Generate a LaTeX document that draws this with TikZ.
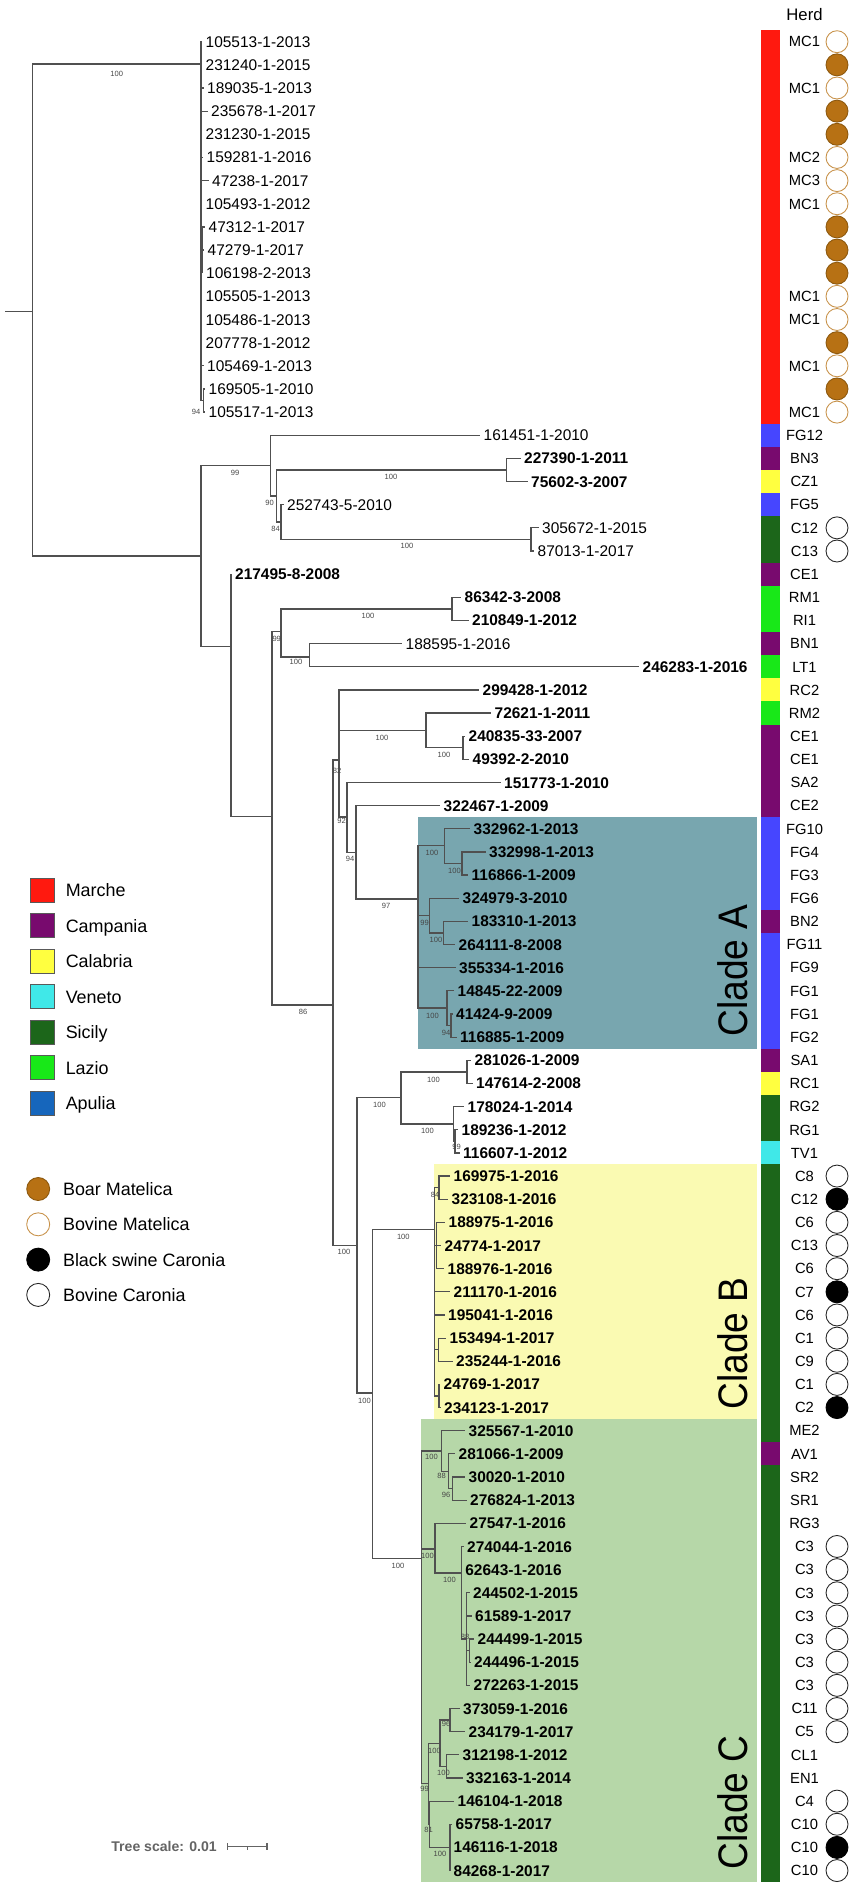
\documentclass[tikz,border=0pt]{standalone}
\usepackage{fontspec}
\setmainfont{Liberation Sans}
\newfontfamily\cladefont{Liberation Sans}[FakeStretch=0.9]
\definecolor{brc}{RGB}{80,80,80}
\definecolor{bsc}{RGB}{70,70,70}
\definecolor{cMar}{RGB}{255,25,15}
\definecolor{cCam}{RGB}{120,10,110}
\definecolor{cCal}{RGB}{255,255,64}
\definecolor{cVen}{RGB}{64,232,232}
\definecolor{cSic}{RGB}{28,102,26}
\definecolor{cLaz}{RGB}{24,232,24}
\definecolor{cApu}{RGB}{22,102,188}
\definecolor{cFG}{RGB}{70,70,255}
\definecolor{cA}{RGB}{120,166,175}
\definecolor{cB}{RGB}{250,250,178}
\definecolor{cC}{RGB}{182,215,168}
\definecolor{boarF}{RGB}{183,113,20}
\definecolor{boarD}{RGB}{140,88,14}
\definecolor{bovMD}{RGB}{200,146,74}
\definecolor{tsc}{RGB}{100,100,100}
\newcommand\lf[5]{\coordinate (#1t) at (#2,{41.7+23.15*#3}); \node[#4] (#1) at (#1t) {#5};}
\newcommand\cells[3]{\fill[#3] (761,{30.1+23.15*#1}) rectangle (780,{30.1+23.15*(#2+1)});}
\begin{document}
\begin{tikzpicture}[x=0.02cm,y=-0.02cm,
 br/.style={draw=brc,line width=0.7pt},
 lfn/.style={anchor=west,inner xsep=1.9pt,inner ysep=0pt,text height=6.3pt,text depth=0pt,font=\fontsize{8.8}{10}\selectfont},
 lfb/.style={lfn,font=\fontsize{8.8}{10}\selectfont\bfseries},
 bsl/.style={inner sep=0pt,text=bsc,font=\fontsize{4.3}{5}\selectfont},
 herd/.style={inner sep=0pt,text height=6pt,text depth=0pt,font=\fontsize{8.4}{10}\selectfont},
 hc/.style={circle,inner sep=0pt,minimum size=0.44cm,line width=0.5pt},
 boar/.style={hc,draw=boarD,fill=boarF},
 bovm/.style={hc,draw=bovMD,fill=white},
 blk/.style={hc,draw=black,fill=black},
 bovc/.style={hc,draw=black!85,fill=white},
 lsq/.style={draw=black!65,line width=0.5pt,minimum size=0.48cm,inner sep=0pt},
 ltx/.style={anchor=base west,inner sep=0pt,font=\fontsize{10.2}{12}\selectfont},
 cladelbl/.style={rotate=90,anchor=base west,inner sep=0pt,font=\cladefont\fontsize{23.5}{26}\selectfont},
 sbar/.style={draw=tsc,line width=0.6pt}]
\useasboundingbox (0,0) rectangle (851,1889);
% clade boxes
\fill[cA] (417.7,816.7) rectangle (757,1049.3);
\fill[cB] (434.3,1164.3) rectangle (757,1419);
\fill[cC] (421,1419) rectangle (757,1882.3);
\node[cladelbl] (cladeA) at (747,1037) {Clade A};
\node[cladelbl] (cladeB) at (747,1410) {Clade B};
\node[cladelbl] (cladeC) at (747,1870) {Clade C};
% internal nodes
\coordinate (R0) at (5.4,311.7);
\coordinate (R) at (32.7,311.7);
\coordinate (MA) at (201,64);
\coordinate (MAa) at (201.8,169);
\coordinate (MAb) at (202.5,250);
\coordinate (MAc) at (203.5,400.5);
\coordinate (N1) at (201,556);
\coordinate (N2) at (270.5,465.5);
\coordinate (N3) at (276.5,496);
\coordinate (CZ) at (506.5,470);
\coordinate (N4) at (281,522);
\coordinate (C12n) at (531,539.4);
\coordinate (N5) at (231,646.7);
\coordinate (N6) at (272,816.7);
\coordinate (N7) at (281,631.7);
\coordinate (RM) at (452,609);
\coordinate (N8) at (309.5,657);
\coordinate (N9) at (333,1005);
\coordinate (N10) at (339,760);
\coordinate (N72) at (426,730.7);
\coordinate (N24) at (463,747.8);
\coordinate (N12) at (347,817);
\coordinate (N13) at (356,852.5);
\coordinate (CA) at (418,899);
\coordinate (A1) at (444.5,845.7);
\coordinate (A1s) at (462,863.5);
\coordinate (A2) at (429.5,915.5);
\coordinate (A2s) at (443.5,933);
\coordinate (A3) at (447,1008);
\coordinate (A3s) at (451,1025.6);
\coordinate (N11) at (357,1245.7);
\coordinate (RG) at (401,1097.7);
\coordinate (RC) at (467,1071.9);
\coordinate (RGn) at (453.5,1124);
\coordinate (RGs) at (455,1141.3);
\coordinate (BC) at (372.5,1393);
\coordinate (CB) at (434.5,1229.3);
\coordinate (B1) at (439,1187.6);
\coordinate (B2) at (436.7,1245.5);
\coordinate (B3) at (438.3,1349.7);
\coordinate (B4) at (439,1396);
\coordinate (CC) at (421.5,1558.3);
\coordinate (C1) at (441.7,1451);
\coordinate (C1a) at (448.3,1471.2);
\coordinate (C1b) at (452.7,1488.6);
\coordinate (C2) at (435,1549);
\coordinate (C2a) at (461.7,1573);
\coordinate (C2b) at (466.7,1639);
\coordinate (C2c) at (469.5,1650.6);
\coordinate (Y) at (428.5,1783.7);
\coordinate (C3a) at (440,1743.2);
\coordinate (s96) at (450,1720);
\coordinate (s100b) at (446.6,1766.4);
\coordinate (Z) at (429.5,1824.25);
\coordinate (s81) at (450,1847.4);
% leaves
\lf{l0}{202}{0}{lfn}{105513-1-2013}
\lf{l1}{202}{1}{lfn}{231240-1-2015}
\lf{l2}{203.5}{2}{lfn}{189035-1-2013}
\lf{l3}{207.5}{3}{lfn}{235678-1-2017}
\lf{l4}{202}{4}{lfn}{231230-1-2015}
\lf{l5}{203}{5}{lfn}{159281-1-2016}
\lf{l6}{208.5}{6}{lfn}{47238-1-2017}
\lf{l7}{202}{7}{lfn}{105493-1-2012}
\lf{l8}{205}{8}{lfn}{47312-1-2017}
\lf{l9}{204}{9}{lfn}{47279-1-2017}
\lf{l10}{202.5}{10}{lfn}{106198-2-2013}
\lf{l11}{202}{11}{lfn}{105505-1-2013}
\lf{l12}{202}{12}{lfn}{105486-1-2013}
\lf{l13}{202}{13}{lfn}{207778-1-2012}
\lf{l14}{203.5}{14}{lfn}{105469-1-2013}
\lf{l15}{205}{15}{lfn}{169505-1-2010}
\lf{l16}{205}{16}{lfn}{105517-1-2013}
\lf{l17}{480}{17}{lfn}{161451-1-2010}
\lf{l18}{520.5}{18}{lfb}{227390-1-2011}
\lf{l19}{527.5}{19}{lfb}{75602-3-2007}
\lf{l20}{283.5}{20}{lfn}{252743-5-2010}
\lf{l21}{538.5}{21}{lfn}{305672-1-2015}
\lf{l22}{534}{22}{lfn}{87013-1-2017}
\lf{l23}{231.5}{23}{lfb}{217495-8-2008}
\lf{l24}{461}{24}{lfb}{86342-3-2008}
\lf{l25}{468.5}{25}{lfb}{210849-1-2012}
\lf{l26}{402}{26}{lfn}{188595-1-2016}
\lf{l27}{639}{27}{lfb}{246283-1-2016}
\lf{l28}{479}{28}{lfb}{299428-1-2012}
\lf{l29}{491}{29}{lfb}{72621-1-2011}
\lf{l30}{465}{30}{lfb}{240835-33-2007}
\lf{l31}{469}{31}{lfb}{49392-2-2010}
\lf{l32}{500.5}{32}{lfb}{151773-1-2010}
\lf{l33}{440}{33}{lfb}{322467-1-2009}
\lf{l34}{470}{34}{lfb}{332962-1-2013}
\lf{l35}{485.5}{35}{lfb}{332998-1-2013}
\lf{l36}{468}{36}{lfb}{116866-1-2009}
\lf{l37}{459}{37}{lfb}{324979-3-2010}
\lf{l38}{468}{38}{lfb}{183310-1-2013}
\lf{l39}{455}{39}{lfb}{264111-8-2008}
\lf{l40}{455.5}{40}{lfb}{355334-1-2016}
\lf{l41}{454}{41}{lfb}{14845-22-2009}
\lf{l42}{452.5}{42}{lfb}{41424-9-2009}
\lf{l43}{456.5}{43}{lfb}{116885-1-2009}
\lf{l44}{471}{44}{lfb}{281026-1-2009}
\lf{l45}{472.5}{45}{lfb}{147614-2-2008}
\lf{l46}{464}{46}{lfb}{178024-1-2014}
\lf{l47}{458}{47}{lfb}{189236-1-2012}
\lf{l48}{459.5}{48}{lfb}{116607-1-2012}
\lf{l49}{450}{49}{lfb}{169975-1-2016}
\lf{l50}{448}{50}{lfb}{323108-1-2016}
\lf{l51}{445}{51}{lfb}{188975-1-2016}
\lf{l52}{441}{52}{lfb}{24774-1-2017}
\lf{l53}{444}{53}{lfb}{188976-1-2016}
\lf{l54}{450}{54}{lfb}{211170-1-2016}
\lf{l55}{444.5}{55}{lfb}{195041-1-2016}
\lf{l56}{446}{56}{lfb}{153494-1-2017}
\lf{l57}{452.5}{57}{lfb}{235244-1-2016}
\lf{l58}{440}{58}{lfb}{24769-1-2017}
\lf{l59}{440.5}{59}{lfb}{234123-1-2017}
\lf{l60}{465}{60}{lfb}{325567-1-2010}
\lf{l61}{455}{61}{lfb}{281066-1-2009}
\lf{l62}{465}{62}{lfb}{30020-1-2010}
\lf{l63}{466.5}{63}{lfb}{276824-1-2013}
\lf{l64}{466}{64}{lfb}{27547-1-2016}
\lf{l65}{463.5}{65}{lfb}{274044-1-2016}
\lf{l66}{461.7}{66}{lfb}{62643-1-2016}
\lf{l67}{469.5}{67}{lfb}{244502-1-2015}
\lf{l68}{471.5}{68}{lfb}{61589-1-2017}
\lf{l69}{474}{69}{lfb}{244499-1-2015}
\lf{l70}{470.5}{70}{lfb}{244496-1-2015}
\lf{l71}{470}{71}{lfb}{272263-1-2015}
\lf{l72}{459.5}{72}{lfb}{373059-1-2016}
\lf{l73}{465}{73}{lfb}{234179-1-2017}
\lf{l74}{459}{74}{lfb}{312198-1-2012}
\lf{l75}{462.5}{75}{lfb}{332163-1-2014}
\lf{l76}{454}{76}{lfb}{146104-1-2018}
\lf{l77}{452}{77}{lfb}{65758-1-2017}
\lf{l78}{450}{78}{lfb}{146116-1-2018}
\lf{l79}{450}{79}{lfb}{84268-1-2017}
% branches
\draw[br] (R0) -- (R);
\foreach \c in {MA,N1} \draw[br] (R) |- (\c);
\foreach \c in {l0t,l1t,l2t,l3t,l4t,MAa,l7t,MAb,l11t,l12t,l13t,l14t,MAc} \draw[br] (MA) |- (\c);
\foreach \c in {l5t,l6t} \draw[br] (MAa) |- (\c);
\foreach \c in {l8t,l9t,l10t} \draw[br] (MAb) |- (\c);
\foreach \c in {l15t,l16t} \draw[br] (MAc) |- (\c);
\foreach \c in {N2,N5} \draw[br] (N1) |- (\c);
\foreach \c in {l17t,N3} \draw[br] (N2) |- (\c);
\foreach \c in {CZ,N4} \draw[br] (N3) |- (\c);
\foreach \c in {l18t,l19t} \draw[br] (CZ) |- (\c);
\foreach \c in {l20t,C12n} \draw[br] (N4) |- (\c);
\foreach \c in {l21t,l22t} \draw[br] (C12n) |- (\c);
\foreach \c in {l23t,N6} \draw[br] (N5) |- (\c);
\foreach \c in {N7,N9} \draw[br] (N6) |- (\c);
\foreach \c in {RM,N8} \draw[br] (N7) |- (\c);
\foreach \c in {l24t,l25t} \draw[br] (RM) |- (\c);
\foreach \c in {l26t,l27t} \draw[br] (N8) |- (\c);
\foreach \c in {N10,N11} \draw[br] (N9) |- (\c);
\foreach \c in {l28t,N72,N12} \draw[br] (N10) |- (\c);
\foreach \c in {l29t,N24} \draw[br] (N72) |- (\c);
\foreach \c in {l30t,l31t} \draw[br] (N24) |- (\c);
\foreach \c in {l32t,N13} \draw[br] (N12) |- (\c);
\foreach \c in {l33t,CA} \draw[br] (N13) |- (\c);
\foreach \c in {A1,A2,l40t,A3} \draw[br] (CA) |- (\c);
\foreach \c in {l34t,A1s} \draw[br] (A1) |- (\c);
\foreach \c in {l35t,l36t} \draw[br] (A1s) |- (\c);
\foreach \c in {l37t,A2s} \draw[br] (A2) |- (\c);
\foreach \c in {l38t,l39t} \draw[br] (A2s) |- (\c);
\foreach \c in {l41t,A3s} \draw[br] (A3) |- (\c);
\foreach \c in {l42t,l43t} \draw[br] (A3s) |- (\c);
\foreach \c in {RG,BC} \draw[br] (N11) |- (\c);
\foreach \c in {RC,RGn} \draw[br] (RG) |- (\c);
\foreach \c in {l44t,l45t} \draw[br] (RC) |- (\c);
\foreach \c in {l46t,RGs} \draw[br] (RGn) |- (\c);
\foreach \c in {l47t,l48t} \draw[br] (RGs) |- (\c);
\foreach \c in {CB,CC} \draw[br] (BC) |- (\c);
\foreach \c in {B1,B2,l54t,l55t,B3,B4} \draw[br] (CB) |- (\c);
\foreach \c in {l49t,l50t} \draw[br] (B1) |- (\c);
\foreach \c in {l51t,l52t,l53t} \draw[br] (B2) |- (\c);
\foreach \c in {l56t,l57t} \draw[br] (B3) |- (\c);
\foreach \c in {l58t,l59t} \draw[br] (B4) |- (\c);
\foreach \c in {C1,C2,Y} \draw[br] (CC) |- (\c);
\foreach \c in {l60t,C1a} \draw[br] (C1) |- (\c);
\foreach \c in {l61t,C1b} \draw[br] (C1a) |- (\c);
\foreach \c in {l62t,l63t} \draw[br] (C1b) |- (\c);
\foreach \c in {l64t,C2a} \draw[br] (C2) |- (\c);
\foreach \c in {l65t,l66t,C2b} \draw[br] (C2a) |- (\c);
\foreach \c in {l67t,l68t,C2c,l71t} \draw[br] (C2b) |- (\c);
\foreach \c in {l69t,l70t} \draw[br] (C2c) |- (\c);
\foreach \c in {C3a,Z} \draw[br] (Y) |- (\c);
\foreach \c in {s96,s100b} \draw[br] (C3a) |- (\c);
\foreach \c in {l72t,l73t} \draw[br] (s96) |- (\c);
\foreach \c in {l74t,l75t} \draw[br] (s100b) |- (\c);
\foreach \c in {l76t,s81} \draw[br] (Z) |- (\c);
\foreach \c in {l77t,l78t,l79t} \draw[br] (s81) |- (\c);
% bootstrap values
\foreach \n/\x/\y/\t in {b0/116.7/74/100,b1/196/412/94,b2/235/472.5/99,b3/269.5/502.5/90,b4/391/477/100,b5/275.5/528.5/84,b6/407/546/100,b7/276.7/639/99,b8/368/616/100,b9/296/662/100,b10/303/1012/86,b11/337/770.5/82,b12/382/737.5/100,b13/444/755/100,b14/341.5/821/92,b15/350/859/94,b16/386/905.5/97,b17/432/853/100,b18/454.5/870.5/100,b19/424.5/922.5/99,b20/436/940/100,b21/432.5/1015.5/100,b22/446/1032.5/94,b23/344/1252.3/100,b24/379.5/1105/100,b25/433.5/1079.5/100,b26/427.5/1131/100,b27/456.5/1147/99,b28/364.5/1400.5/100,b29/403.3/1236.7/100,b30/435/1194.5/84,b31/398/1565.7/100,b32/431.5/1457/100,b33/441.5/1476/88,b34/446/1495/96,b35/427.5/1556/100,b36/449.5/1580/100,b37/465/1637/88,b38/424.5/1789/99,b39/434.5/1750.5/100,b40/446/1724/96,b41/443.5/1773/100,b42/428.5/1829.5/81,b43/440/1853.5/100}
  \node[bsl] (\n) at (\x,\y) {\t};
% colour strip
\cells{0}{16}{cMar}\cells{17}{17}{cFG}\cells{18}{18}{cCam}\cells{19}{19}{cCal}
\cells{20}{20}{cFG}\cells{21}{22}{cSic}\cells{23}{23}{cCam}\cells{24}{25}{cLaz}
\cells{26}{26}{cCam}\cells{27}{27}{cLaz}\cells{28}{28}{cCal}\cells{29}{29}{cLaz}
\cells{30}{33}{cCam}\cells{34}{37}{cFG}\cells{38}{38}{cCam}\cells{39}{43}{cFG}
\cells{44}{44}{cCam}\cells{45}{45}{cCal}\cells{46}{47}{cSic}\cells{48}{48}{cVen}
\cells{49}{60}{cSic}\cells{61}{61}{cCam}\cells{62}{79}{cSic}
% herd
\node[inner sep=0pt,font=\fontsize{9.5}{11}\selectfont] (herdtitle) at (804.5,15) {Herd};
\foreach \r/\t in {0/MC1,2/MC1,5/MC2,6/MC3,7/MC1,11/MC1,12/MC1,14/MC1,16/MC1,17/FG12,18/BN3,19/CZ1,20/FG5,21/C12,22/C13,23/CE1,24/RM1,25/RI1,26/BN1,27/LT1,28/RC2,29/RM2,30/CE1,31/CE1,32/SA2,33/CE2,34/FG10,35/FG4,36/FG3,37/FG6,38/BN2,39/FG11,40/FG9,41/FG1,42/FG1,43/FG2,44/SA1,45/RC1,46/RG2,47/RG1,48/TV1,49/C8,50/C12,51/C6,52/C13,53/C6,54/C7,55/C6,56/C1,57/C9,58/C1,59/C2,60/ME2,61/AV1,62/SR2,63/SR1,64/RG3,65/C3,66/C3,67/C3,68/C3,69/C3,70/C3,71/C3,72/C11,73/C5,74/CL1,75/EN1,76/C4,77/C10,78/C10,79/C10}
  \node[herd] (h\r) at (804.5,{41.7+23.15*\r}) {\t};
\foreach \r/\s in {0/bovm,2/bovm,5/bovm,6/bovm,7/bovm,11/bovm,12/bovm,14/bovm,16/bovm,1/boar,3/boar,4/boar,8/boar,9/boar,10/boar,13/boar,15/boar,21/bovc,22/bovc,49/bovc,51/bovc,52/bovc,53/bovc,55/bovc,56/bovc,57/bovc,58/bovc,65/bovc,66/bovc,67/bovc,68/bovc,69/bovc,70/bovc,71/bovc,72/bovc,73/bovc,76/bovc,77/bovc,79/bovc,50/blk,54/blk,59/blk,78/blk}
  \node[\s] (c\r) at (837,{41.7+23.15*\r}) {};
% legend regions
\foreach \n/\k/\c/\t in {q1/0/cMar/Marche,q2/1/cCam/Campania,q3/2/cCal/Calabria,q4/3/cVen/Veneto,q5/4/cSic/Sicily,q6/5/cLaz/Lazio,q7/6/cApu/Apulia}{
  \node[lsq,fill=\c] (\n) at (42.2,{890.3+35.5*\k}) {};
  \node[ltx] (\n t) at (65.4,{896.7+35.5*\k}) {\t};
}
% legend hosts
\node[boar,minimum size=0.46cm] (g1) at (38.2,1189) {};
\node[ltx] (g1t) at (62.7,1195.4) {Boar Matelica};
\node[bovm,minimum size=0.46cm] (g2) at (38.2,1224.3) {};
\node[ltx] (g2t) at (62.7,1230.7) {Bovine Matelica};
\node[blk,minimum size=0.46cm] (g3) at (38.2,1259.6) {};
\node[ltx] (g3t) at (62.7,1266) {Black swine Caronia};
\node[bovc,minimum size=0.46cm] (g4) at (38.2,1294.9) {};
\node[ltx] (g4t) at (62.7,1301.3) {Bovine Caronia};
% tree scale
\node[anchor=east,inner sep=0pt,text height=5.7pt,text depth=0pt,text=tsc,font=\fontsize{8}{10}\selectfont\bfseries] (ts) at (217,1846.7) {Tree scale: 0.01};
\coordinate (sb1) at (227.8,1846.7);
\coordinate (sb2) at (267,1846.7);
\coordinate (sbm) at (247.4,1846.7);
\draw[sbar] (sb1) -- (sb2);
\draw[sbar] ([yshift=2pt]sb1) -- ([yshift=-2pt]sb1);
\draw[sbar] ([yshift=2pt]sb2) -- ([yshift=-2pt]sb2);
\draw[sbar] (sbm) -- ([yshift=-1.6pt]sbm);
\end{tikzpicture}
\end{document}
